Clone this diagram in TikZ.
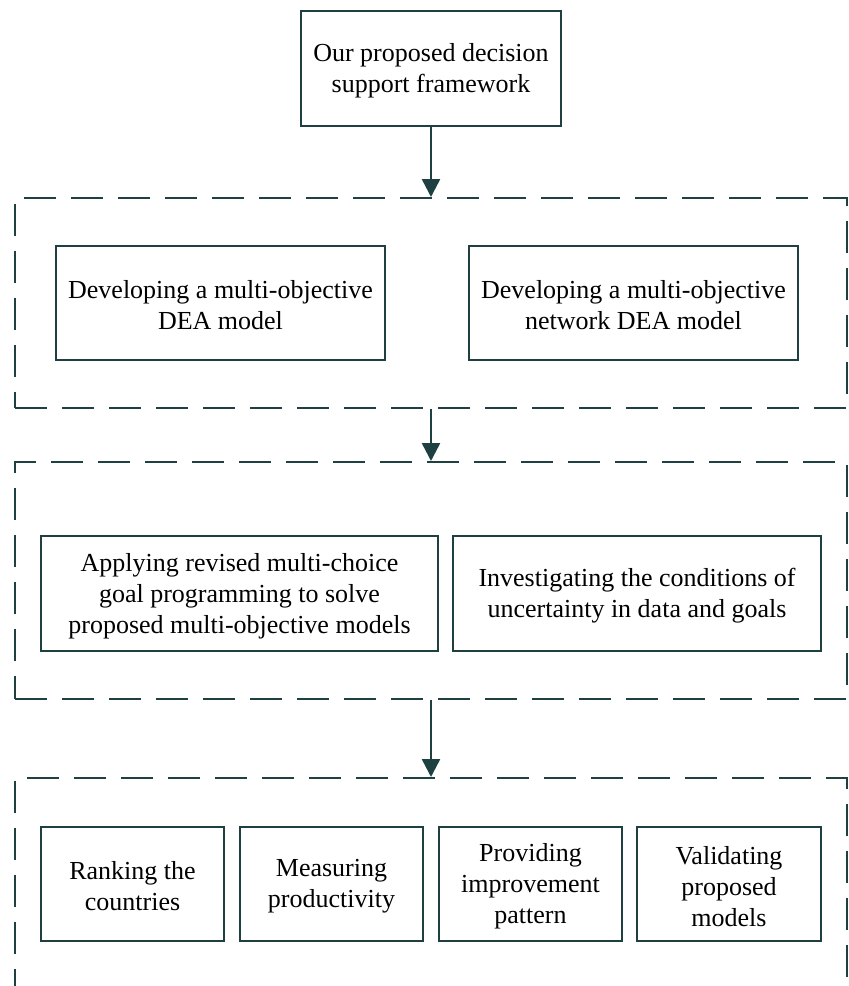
\documentclass[tikz,border=0pt]{standalone}
\usepackage{fontspec}
\setmainfont{Liberation Serif}
\usetikzlibrary{arrows.meta}
\definecolor{dk}{RGB}{30,64,64}
\begin{document}
\begin{tikzpicture}[x=1pt,y=-1pt,
  box/.style={draw=dk,line width=2pt,fill=white,inner sep=0pt},
  txt/.style={align=center,inner sep=0pt,font=\fontsize{26}{31}\selectfont},
  group/.style={draw=dk,line width=2pt,dash pattern=on 32pt off 15pt,inner sep=0pt},
  arr/.style={draw=dk,line width=2.5pt,-{Triangle[width=18pt,length=18pt]}}]
\useasboundingbox (0,0) rectangle (849,986);
\clip (0,0) rectangle (849,986);
\fill[white] (0,0) rectangle (849,986);
% groups
\node[group,minimum width=832pt,minimum height=210pt] (g1) at (431,303) {};
\node[group,minimum width=832pt,minimum height=237pt] (g2) at (431,580.5) {};
\node[group,minimum width=832pt,minimum height=260pt] (g3) at (431,908) {};
% boxes
\node[box,minimum width=260pt,minimum height=115pt] (top) at (431,68.5) {};
\node[box,minimum width=329pt,minimum height=114pt] (b1) at (220.5,303) {};
\node[box,minimum width=329pt,minimum height=114pt] (b2) at (633.5,303) {};
\node[box,minimum width=397pt,minimum height=115pt] (b3) at (239.5,593.5) {};
\node[box,minimum width=368pt,minimum height=115pt] (b4) at (637,593.5) {};
\node[box,minimum width=183pt,minimum height=114pt] (c1) at (132.5,884) {};
\node[box,minimum width=183pt,minimum height=114pt] (c2) at (331.5,884) {};
\node[box,minimum width=183pt,minimum height=114pt] (c3) at (530.5,884) {};
\node[box,minimum width=184pt,minimum height=114pt] (c4) at (729,884) {};
% texts
\node[txt] (ttop) at ([yshift=-2.5pt]top.center) {Our proposed decision\\support framework};
\node[txt] (tb1) at ([yshift=-2.5pt]b1.center) {Developing a multi-objective\\DEA model};
\node[txt] (tb2) at ([yshift=-2.5pt]b2.center) {Developing a multi-objective\\network DEA model};
\node[txt] (tb3) at ([yshift=-2.5pt]b3.center) {Applying revised multi-choice\\goal programming to solve\\proposed multi-objective models};
\node[txt] (tb4) at ([yshift=-2.5pt]b4.center) {Investigating the conditions of\\uncertainty in data and goals};
\node[txt] (tc1) at ([yshift=-2.5pt]c1.center) {Ranking the\\countries};
\node[txt] (tc2) at ([yshift=-2.5pt]c2.center) {Measuring\\productivity};
\node[txt] (tc3) at ([yshift=-2.5pt]c3.center) {Providing\\improvement\\pattern};
\node[txt] (tc4) at ([yshift=-2.5pt]c4.center) {Validating\\proposed\\models};
% arrows
\draw[arr] (top.south) -- (g1.north);
\draw[arr] (g1.south) -- (g2.north);
\draw[arr] (g2.south) -- (g3.north);
\end{tikzpicture}
\end{document}
